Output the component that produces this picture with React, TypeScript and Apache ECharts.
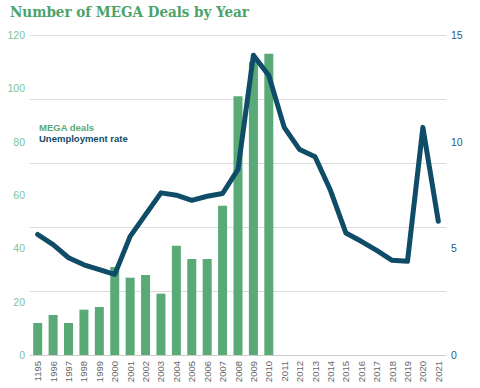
import React, { useEffect, useRef } from "react";
import * as echarts from "echarts";

const years = ["1195","1996","1997","1998","1999","2000","2001","2002","2003","2004","2005","2006","2007","2008","2009","2010","2011","2012","2013","2014","2015","2016","2017","2018","2019","2020","2021"];
const megaDeals = [12, 15, 12, 17, 18, 33, 29, 30, 23, 41, 36, 36, 56, 97, 110, 113, null, null, null, null, null, null, null, null, null, null, null];
const unemployment = [5.65, 5.17, 4.56, 4.23, 4.0, 3.78, 5.56, 6.58, 7.6, 7.49, 7.25, 7.44, 7.57, 8.7, 14.05, 13.1, 10.67, 9.63, 9.29, 7.72, 5.72, 5.33, 4.9, 4.44, 4.39, 10.67, 6.27];
const leftTicks = [0, 20, 40, 60, 80, 100, 120];
const rightTicks = [0, 5, 10, 15];

export default function App() {
  const ref = useRef<HTMLDivElement>(null);
  useEffect(() => {
    if (!ref.current) return;
    const chart = echarts.init(ref.current, null, { renderer: "svg" });
    chart.setOption({
      animation: false,
      backgroundColor: "#ffffff",
      textStyle: { fontFamily: "Liberation Sans, Arial, sans-serif" },
      grid: { left: 30, right: 34, top: 35, bottom: 33, containLabel: false },
      graphic: [
        {
          type: "text",
          left: 10,
          top: 4,
          style: {
            text: "Number of MEGA Deals by Year",
            fill: "#4ca36a",
            font: "bold 15px 'DejaVu Serif Condensed', 'DejaVu Serif', serif",
          },
        },
        {
          type: "text",
          left: 39,
          top: 122,
          style: { text: "MEGA deals", fill: "#5aaa78", font: "bold 9.5px 'Liberation Sans', Arial, sans-serif" },
        },
        {
          type: "text",
          left: 39,
          top: 133,
          style: { text: "Unemployment rate", fill: "#0f4c68", font: "bold 9.5px 'Liberation Sans', Arial, sans-serif" },
        },
      ],
      xAxis: {
        type: "category",
        data: years,
        axisLine: { show: true, lineStyle: { color: "#cccccc", width: 1 } },
        axisTick: { show: false },
        axisLabel: { rotate: 90, fontSize: 9.5, color: "#666666", margin: 6, interval: 0 },
      },
      yAxis: [
        {
          type: "value",
          min: leftTicks[0],
          max: leftTicks[leftTicks.length - 1],
          interval: 20,
          position: "left",
          axisLine: { show: false },
          axisTick: { show: false },
          splitLine: { show: false },
          axisLabel: { color: "#7cc497", fontSize: 10.5, margin: 5 },
        },
        {
          type: "value",
          min: rightTicks[0],
          max: rightTicks[rightTicks.length - 1],
          interval: 5,
          position: "right",
          axisLine: { show: false },
          axisTick: { show: false },
          splitLine: { show: false },
          axisLabel: { color: "#2b5d78", fontSize: 10.5, margin: 5 },
        },
        {
          type: "value",
          min: 0,
          max: 5,
          interval: 1,
          position: "right",
          axisLine: { show: false },
          axisTick: { show: false },
          axisLabel: { show: false },
          splitLine: { show: true, lineStyle: { color: "#dddddd", width: 1 } },
        },
      ],
      series: [
        {
          type: "bar",
          yAxisIndex: 0,
          data: megaDeals,
          barWidth: 9,
          itemStyle: { color: "#5aaa78" },
          z: 2,
        },
        {
          type: "line",
          yAxisIndex: 1,
          data: unemployment,
          symbol: "none",
          lineStyle: { color: "#0f4c68", width: 5, join: "round", cap: "round" },
          z: 3,
        },
      ],
    });
    return () => chart.dispose();
  }, []);
  return <div ref={ref} style={{ width: 480, height: 388, position: "absolute", left: 0, top: 0 }} />;
}
